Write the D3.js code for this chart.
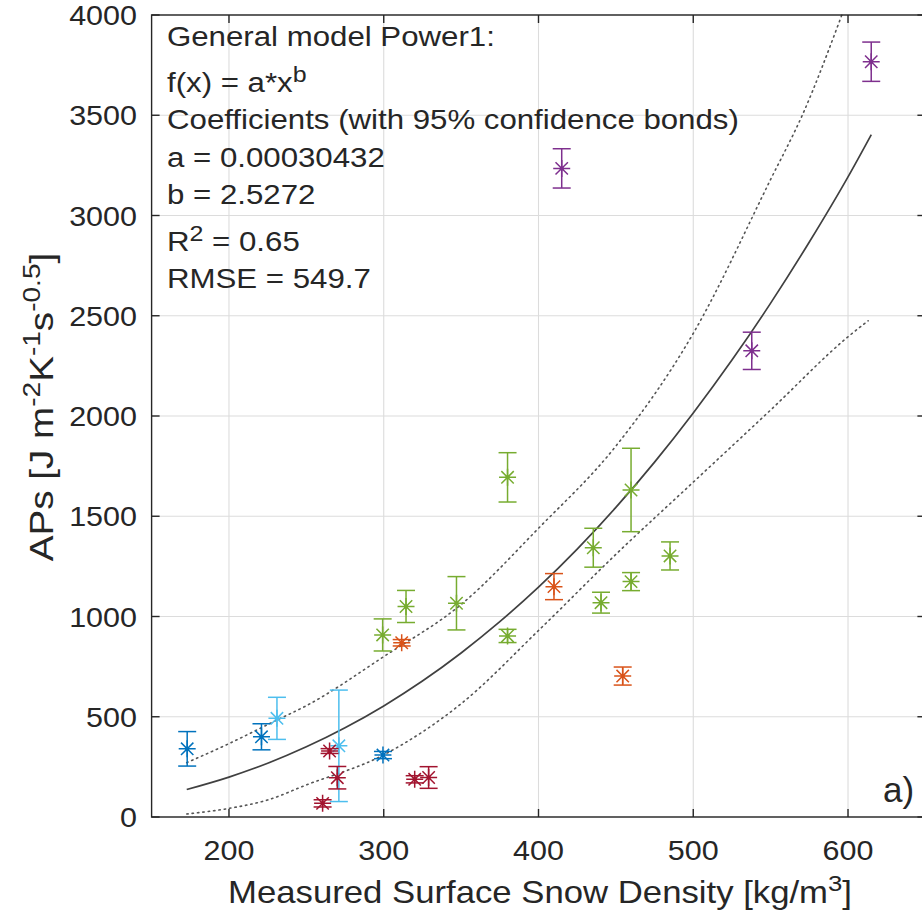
<!DOCTYPE html>
<html>
<head>
<meta charset="utf-8">
<script src="https://cdn.jsdelivr.net/npm/d3@7"></script>
<style>
  html, body { margin: 0; padding: 0; background: #fff; }
  svg { display: block; }
  text { font-family: "Liberation Sans", Arial, Helvetica, sans-serif; fill: #262626; }
</style>
</head>
<body>
<svg id="chart" width="922" height="924"></svg>
<script>
// ---------- data ----------
const xTicks = [200, 300, 400, 500, 600];
const yTicks = [0, 500, 1000, 1500, 2000, 2500, 3000, 3500, 4000];

// measurements (density kg/m3, APs, half error bar, group)
const density = [173, 221, 299.5, 231, 271, 265, 270, 260.5, 320, 329, 311.6, 410, 454.4, 299.3, 314.4, 347, 380, 380, 435.4, 440.4, 459.8, 459.8, 485, 415, 615, 537.8];
const aps     = [340, 400, 309, 492, 355, 329, 196, 68, 188, 197, 869, 1149, 703, 908, 1050, 1066, 1694, 903, 1343, 1069, 1631, 1174, 1302, 3235, 3767, 2325];
const apsErr  = [86, 65, 18, 105, 278, 12, 56, 18, 18, 54, 16, 65, 45, 80, 80, 133, 123, 33, 97, 52, 208, 45, 70, 98, 98, 93];
const group   = ["blue","blue","blue","lightblue","lightblue","red","red","red","red","red","orange","orange","orange","green","green","green","green","green","green","green","green","green","green","purple","purple","purple"];
const groupColors = { blue: "#0072BD", lightblue: "#4DBEEE", red: "#A2142F", orange: "#D95319", green: "#77AC30", purple: "#7E2F8E" };

// fitted power model curve (as drawn)
const fitDensity = [172.7, 200, 225, 250, 275, 300, 325, 350, 375, 400, 425, 450, 475, 500, 525, 550, 575, 600, 615];
const fitAps     = [137, 199, 268, 350, 445, 554, 678, 818, 974, 1146, 1336, 1544, 1770, 2015, 2279, 2563, 2868, 3193, 3403];

// 95% confidence bounds (as drawn)
const upperDensity = [172.7, 200, 230, 250, 300, 350, 400, 450, 500, 550, 571, 596];
const upperAps     = [271, 366, 480, 555, 800, 1060, 1440, 1850, 2412, 3180, 3510, 4000];
const lowerDensity = [172.7, 200, 225, 250, 300, 350, 400, 450, 500, 550, 600, 613];
const lowerAps     = [15, 43, 85, 160, 310, 565, 930, 1310, 1670, 2030, 2395, 2475];

const infoLines = [
  { parts: [["General model Power1:", 0]] },
  { parts: [["f(x) = a*x", 0], ["b", 1]] },
  { parts: [["Coefficients (with 95% confidence bonds)", 0]] },
  { parts: [["a = 0.00030432", 0]] },
  { parts: [["b = 2.5272", 0]] },
  { parts: [["R", 0], ["2", 1], [" = 0.65", 0]] },
  { parts: [["RMSE = 549.7", 0]] }
];
const infoBaselines = [46, 92, 129, 167, 204, 251, 288];

// ---------- layout ----------
const svg = d3.select("#chart");
const L = 151.6, R = 925.4, T = 15, B = 817;
const x = d3.scaleLinear().domain([150, 650]).range([L, R]);
const y = d3.scaleLinear().domain([0, 4000]).range([B, T]);
const SX = 1.09;   // horizontal stretch of tick text
const SXI = 1.135; // info text stretch
const SXL = 1.12;  // axis label stretch
const axisColor = "#262626";

// grid
const grid = svg.append("g");
grid.selectAll("line.gx").data(xTicks).enter().append("line")
  .attr("x1", d => x(d)).attr("x2", d => x(d)).attr("y1", T).attr("y2", B)
  .attr("stroke", "#dcdcdc").attr("stroke-width", 1.1);
grid.selectAll("line.gy").data(yTicks).enter().append("line")
  .attr("x1", L).attr("x2", R).attr("y1", d => y(d)).attr("y2", d => y(d))
  .attr("stroke", "#dcdcdc").attr("stroke-width", 1.1);

// confidence bounds
const lineGen = (xs, ys, curve) => d3.line().curve(curve).x((d, i) => x(xs[i])).y((d, i) => y(ys[i]))(xs);
svg.append("path").attr("d", lineGen(upperDensity, upperAps, d3.curveMonotoneX))
  .attr("fill", "none").attr("stroke", "#555").attr("stroke-width", 1.6)
  .attr("stroke-dasharray", "1.4,4").attr("stroke-linecap", "round");
svg.append("path").attr("d", lineGen(lowerDensity, lowerAps, d3.curveMonotoneX))
  .attr("fill", "none").attr("stroke", "#555").attr("stroke-width", 1.6)
  .attr("stroke-dasharray", "1.4,4").attr("stroke-linecap", "round");
// fit
svg.append("path").attr("d", lineGen(fitDensity, fitAps, d3.curveMonotoneX))
  .attr("fill", "none").attr("stroke", "#404040").attr("stroke-width", 1.7);

// error bars + asterisks
const pts = density.map((d, i) => ({ x: d, y: aps[i], e: apsErr[i], c: groupColors[group[i]] }));
const pg = svg.append("g").selectAll("g").data(pts).enter().append("g")
  .attr("stroke", d => d.c).attr("stroke-width", 1.5).attr("fill", "none");
const cap = 9;
pg.append("line").attr("x1", d => x(d.x)).attr("x2", d => x(d.x))
  .attr("y1", d => y(d.y + d.e)).attr("y2", d => y(d.y - d.e));
pg.append("line").attr("x1", d => x(d.x) - cap).attr("x2", d => x(d.x) + cap)
  .attr("y1", d => y(d.y + d.e)).attr("y2", d => y(d.y + d.e));
pg.append("line").attr("x1", d => x(d.x) - cap).attr("x2", d => x(d.x) + cap)
  .attr("y1", d => y(d.y - d.e)).attr("y2", d => y(d.y - d.e));
const m = 8.5, md = 6.2;
pg.append("path").attr("d", d => {
  const cx = x(d.x), cy = y(d.y);
  return `M${cx - m},${cy}H${cx + m}M${cx},${cy - m}V${cy + m}` +
         `M${cx - md},${cy - md}L${cx + md},${cy + md}M${cx - md},${cy + md}L${cx + md},${cy - md}`;
});
pg.append("circle").attr("cx", d => x(d.x)).attr("cy", d => y(d.y)).attr("r", 2)
  .attr("fill", d => d.c).attr("stroke", "none");

// axes box and ticks
const ax = svg.append("g").attr("stroke", axisColor).attr("stroke-width", 1.4).attr("fill", "none");
ax.append("rect").attr("x", L).attr("y", T).attr("width", R - L).attr("height", B - T);
const tl = 8;
ax.selectAll("line.xb").data(xTicks).enter().append("line")
  .attr("x1", d => x(d)).attr("x2", d => x(d)).attr("y1", B).attr("y2", B - tl);
ax.selectAll("line.xt").data(xTicks).enter().append("line")
  .attr("x1", d => x(d)).attr("x2", d => x(d)).attr("y1", T).attr("y2", T + tl);
ax.selectAll("line.yl").data(yTicks).enter().append("line")
  .attr("x1", L).attr("x2", L + tl).attr("y1", d => y(d)).attr("y2", d => y(d));
ax.selectAll("line.yr").data(yTicks).enter().append("line")
  .attr("x1", R).attr("x2", R - tl).attr("y1", d => y(d)).attr("y2", d => y(d));

// tick labels
svg.selectAll("text.xtl").data(xTicks).enter().append("text")
  .attr("transform", d => `translate(${x(d)},860) scale(${SX},1)`)
  .attr("text-anchor", "middle").attr("font-size", 28).text(d => d);
svg.selectAll("text.ytl").data(yTicks).enter().append("text")
  .attr("transform", d => `translate(137,${y(d) + 10}) scale(${SX},1)`)
  .attr("text-anchor", "end").attr("font-size", 28).text(d => d);

// x label
const xl = svg.append("text").attr("transform", `translate(540,903) scale(${SXL},1)`)
  .attr("text-anchor", "middle").attr("font-size", 31);
xl.append("tspan").text("Measured Surface Snow Density [kg/m");
xl.append("tspan").attr("font-size", 23).attr("dy", -12).text("3");
xl.append("tspan").attr("dy", 12).text("]");

// y label
const yl = svg.append("text").attr("transform", `translate(53,407) rotate(-90) scale(1.17,1)`)
  .attr("text-anchor", "middle").attr("font-size", 33);
yl.append("tspan").text("APs [J m");
yl.append("tspan").attr("font-size", 24).attr("dy", -13).text("-2");
yl.append("tspan").attr("dy", 13).text("K");
yl.append("tspan").attr("font-size", 24).attr("dy", -13).text("-1");
yl.append("tspan").attr("dy", 13).text("s");
yl.append("tspan").attr("font-size", 24).attr("dy", -13).text("-0.5");
yl.append("tspan").attr("dy", 13).text("]");

// info text
infoLines.forEach((ln, i) => {
  const t = svg.append("text").attr("transform", `translate(167,${infoBaselines[i]}) scale(${SXI},1)`)
    .attr("font-size", 27.5).attr("fill", "#111");
  let sup = false;
  ln.parts.forEach(([s, isSup]) => {
    const sp = t.append("tspan").text(s);
    if (isSup && !sup) { sp.attr("dy", -10).attr("font-size", 22); sup = true; }
    else if (!isSup && sup) { sp.attr("dy", 10); sup = false; }
  });
});

// panel label
svg.append("text").attr("x", 883).attr("y", 802).attr("font-family", "Lato, 'Open Sans', sans-serif")
  .attr("font-size", 35).attr("fill", "#000").text("a)");
</script>
</body>
</html>
